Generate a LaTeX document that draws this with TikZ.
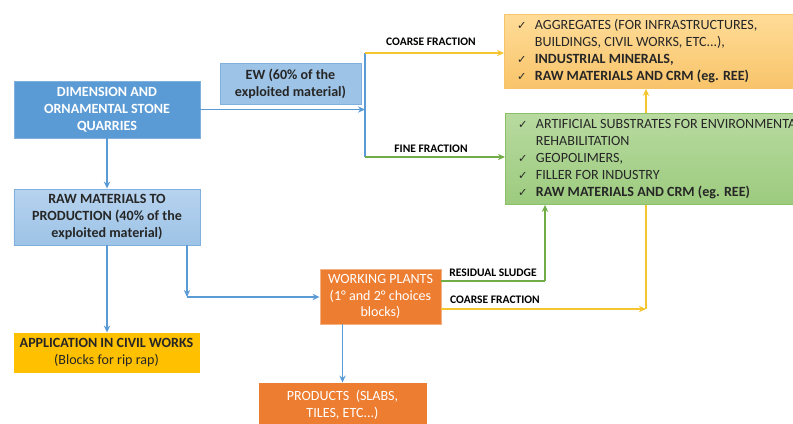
\documentclass[tikz,border=0pt]{standalone}
\usepackage{fontspec}
\setmainfont{Carlito}
\newfontfamily\symfont{DejaVu Sans}
\usetikzlibrary{arrows.meta,backgrounds}

% colours of the flow chart
\definecolor{quarryblue}{HTML}{5B9BD5}
\definecolor{paleblue}{HTML}{9DC3E6}
\definecolor{lightblue}{HTML}{B7D3EF}
\definecolor{edgeblue}{HTML}{7FB0DE}
\definecolor{civilgold}{HTML}{FFC000}
\definecolor{plantorange}{HTML}{ED7D31}
\definecolor{edgeorange}{HTML}{F4B183}
\definecolor{aggtop}{HTML}{FFDC98}
\definecolor{aggbot}{HTML}{F8C46A}
\definecolor{greentop}{HTML}{B8DAA0}
\definecolor{greenbot}{HTML}{9CCB7E}
\definecolor{edgegreen}{HTML}{8CC068}
\definecolor{flowgold}{HTML}{F5C431}
\definecolor{flowgreen}{HTML}{70AD47}
\definecolor{darktext}{HTML}{262626}

\newcommand{\tick}{{\symfont\fontsize{8}{12}\selectfont ✓}}

\tikzset{
  box/.style={draw=edgeblue, line width=0.6pt, align=center, inner sep=2pt,
    font=\fontsize{10}{12}\selectfont,
    execute at begin node={\spaceskip=0pt\xspaceskip=0pt}},
  listbox/.style={box, anchor=north west, align=left, inner xsep=9pt,
    text width=7.2cm, text=darktext},
  flow/.style={line width=1.1pt, -{Stealth[length=5pt,width=4.5pt]}},
  blueflow/.style={flow, draw=quarryblue},
  goldflow/.style={flow, draw=flowgold},
  greenflow/.style={flow, draw=flowgreen},
  lbl/.style={font=\bfseries\fontsize{8.2}{9}\selectfont, text=black, inner sep=1pt}
}

\begin{document}
\begin{tikzpicture}[x=0.025cm, y=-0.025cm]

    % page frame, in pixels of the reference
    \useasboundingbox (0,0) rectangle (793,423);

    % Boxes on the left side
    \node[box, fill=quarryblue, text=white, font=\bfseries\fontsize{10}{12}\selectfont,
      minimum width=4.65cm, minimum height=1.425cm] (quarry) at (107,109.5)
      {DIMENSION AND\\ORNAMENTAL STONE\\QUARRIES};
    \node[box, fill=paleblue, text=darktext, font=\bfseries\fontsize{10}{12}\selectfont,
      minimum width=3.525cm, minimum height=1.025cm] (ew) at (290.5,83.5)
      {EW (60\% of the\\exploited material)};
    \node[box, top color=lightblue, bottom color=paleblue, text=darktext,
      font=\bfseries\fontsize{10}{12}\selectfont,
      minimum width=4.65cm, minimum height=1.4cm] (raw) at (107,217)
      {RAW MATERIALS TO\\PRODUCTION (40\% of the\\exploited material)};
    \node[box, draw=civilgold, fill=civilgold, text=darktext,
      minimum width=4.625cm, minimum height=0.975cm] (civil) at (106.5,352.5)
      {\textbf{APPLICATION IN CIVIL WORKS}\\(Blocks for rip rap)};

    % Orange boxes of the working plants
    \node[box, draw=edgeorange, fill=plantorange, text=white,
      minimum width=3.025cm, minimum height=1.375cm] (plant) at (380.5,296.5)
      {WORKING PLANTS\\(1° and 2° choices\\blocks)};
    \node[box, draw=plantorange, fill=plantorange, text=white,
      minimum width=4.175cm, minimum height=1.1cm] (products) at (342.5,405)
      {PRODUCTS\ \ (SLABS,\\TILES, ETC...)};

    % Boxes of the uses, on the right
    \node[listbox, draw=aggbot, top color=aggtop, bottom color=aggbot,
      minimum height=1.85cm] (aggr) at (504,14)
      {\begin{tabular}{@{}l@{\hspace{6pt}}l@{}}
        \tick & AGGREGATES (FOR INFRASTRUCTURES,\\
              & BUILDINGS, CIVIL WORKS, ETC...),\\
        \tick & \textbf{INDUSTRIAL MINERALS,}\\
        \tick & \textbf{RAW MATERIALS AND CRM (eg. REE)}
      \end{tabular}};
    \node[listbox, draw=edgegreen, top color=greentop, bottom color=greenbot,
      minimum height=2.275cm] (reuse) at (505,113)
      {\begin{tabular}{@{}l@{\hspace{6pt}}l@{}}
        \tick & ARTIFICIAL SUBSTRATES FOR ENVIRONMENTAL\\
              & REHABILITATION\\
        \tick & GEOPOLIMERS,\\
        \tick & FILLER FOR INDUSTRY\\
        \tick & \textbf{RAW MATERIALS AND CRM (eg. REE)}
      \end{tabular}};

    % Turning points of the connectors
    \coordinate (splittop) at (365,53);
    \coordinate (splitbot) at (365,157);
    \coordinate (elbow) at (187,297);
    \coordinate (sludge) at (545,281);
    \coordinate (coarse) at (646,309);

    % Split of the EW into the two fractions
    \draw[blueflow] (quarry.east) -- (quarry.east -| splittop);
    \draw[line width=1.1pt, quarryblue] (splittop) -- (splitbot);
    \draw[goldflow] (splittop) -- (splittop -| aggr.west);
    \draw[greenflow] (splitbot) -- (splitbot -| reuse.west);

    % Flow of the blocks
    \draw[blueflow] (quarry.south) -- (raw.north);
    \draw[blueflow] (raw.south) -- (raw.south |- civil.north);
    \draw[blueflow] (raw.south -| elbow) -- (elbow);
    \draw[blueflow] (elbow) -- (plant.west |- elbow);
    \draw[blueflow] (products.north |- plant.south) -- (products.north);

    % Fractions out of the working plants
    \draw[line width=1.1pt, flowgreen] (plant.east |- sludge) -- (sludge);
    \draw[greenflow] (sludge) -- (sludge |- reuse.south);
    \draw[goldflow] (plant.east |- coarse) -- (coarse);
    \begin{scope}[on background layer]
      \draw[goldflow] (coarse) -- (coarse |- aggr.south);
    \end{scope}

    % Labels of the connectors
    \node[lbl] (coarsetop) at (431,42) {COARSE FRACTION};
    \node[lbl] (finefrac) at (431,149) {FINE FRACTION};
    \node[lbl] (sludgelbl) at (493,273) {RESIDUAL SLUDGE};
    \node[lbl] (coarselow) at (495,300) {COARSE FRACTION};

\end{tikzpicture}
\end{document}
